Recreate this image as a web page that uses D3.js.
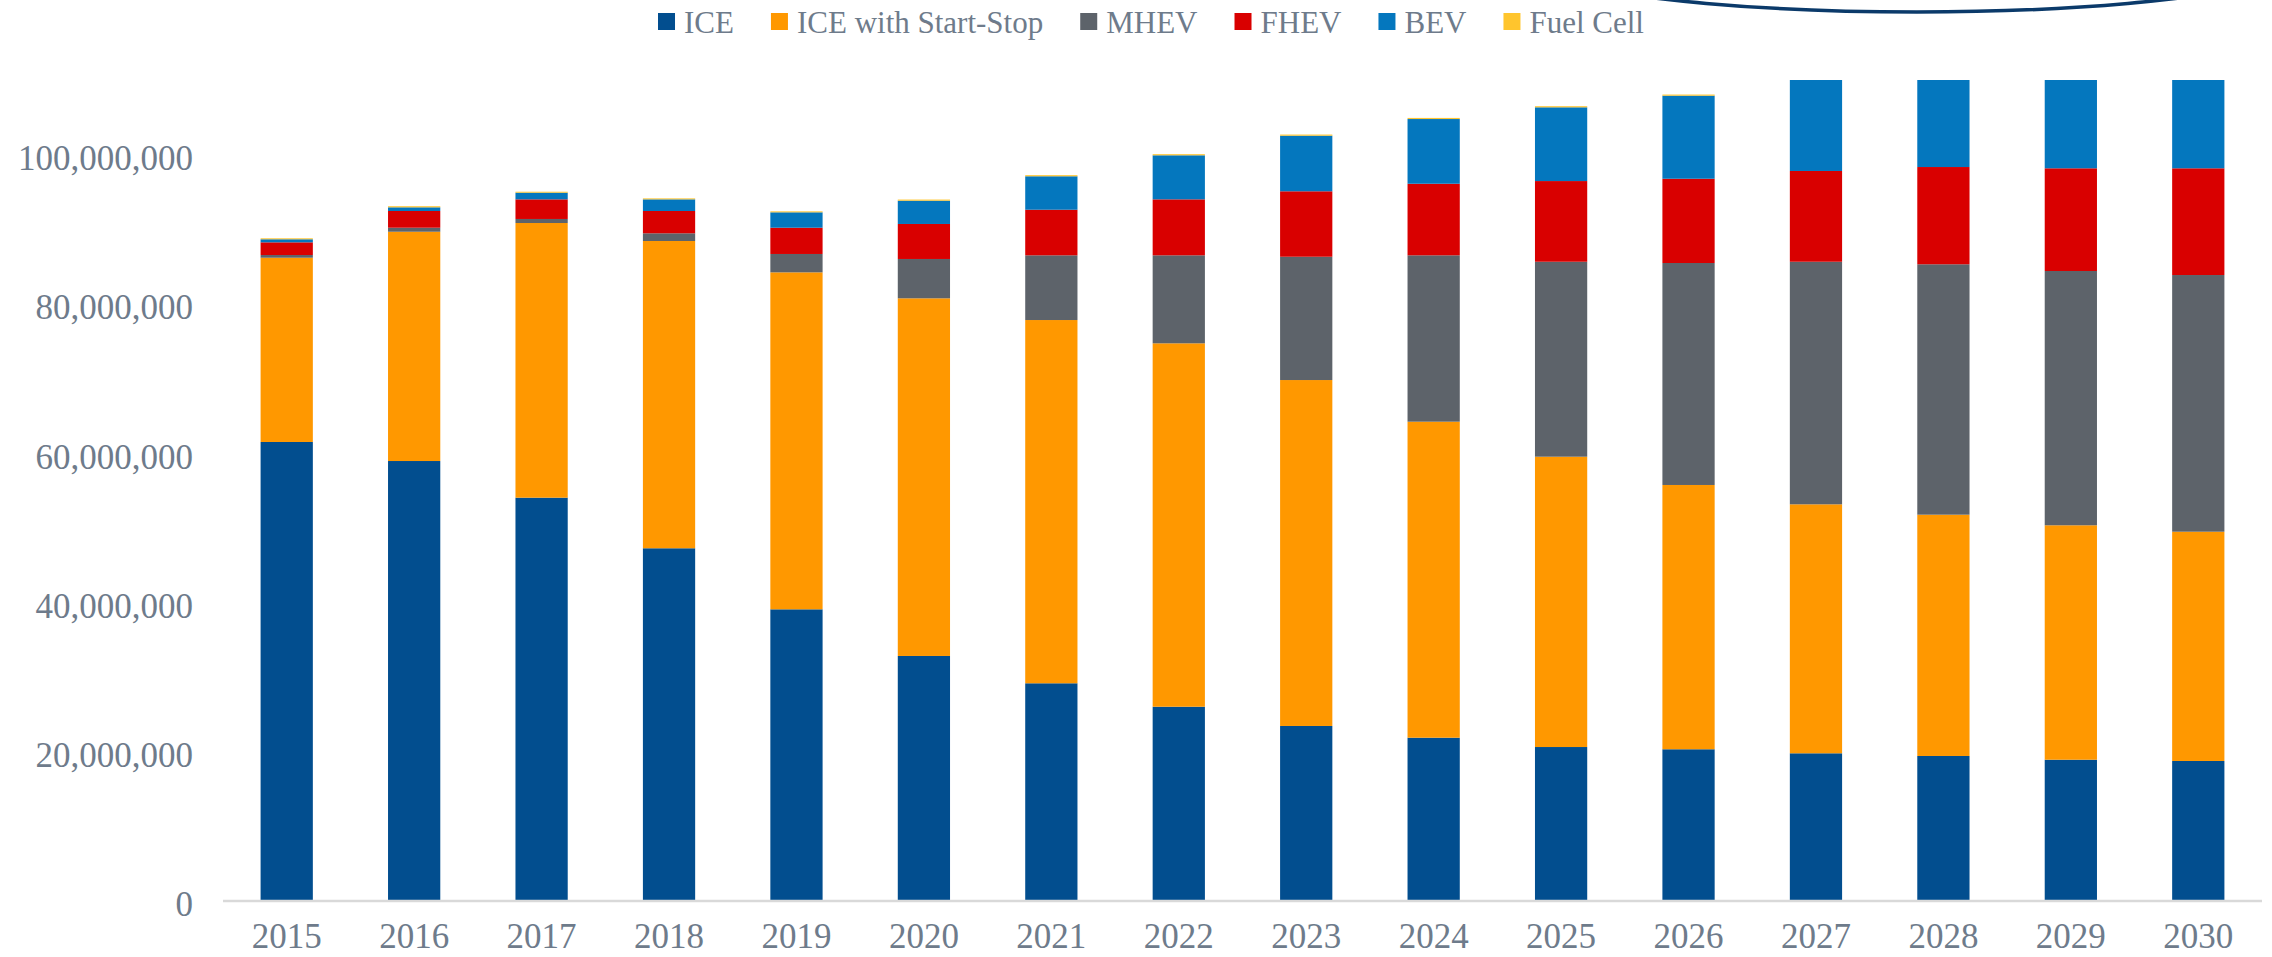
<html>
<head>
<meta charset="utf-8">
<script src="https://d3js.org/d3.v7.min.js"></script>
<style>
  body { margin: 0; background: #ffffff; }
  text { font-family: "Liberation Serif", "Times New Roman", serif; fill: #6E7B8B; }
</style>
</head>
<body>
<svg id="chart"></svg>

<script>
// years and vehicle sales per powertrain (millions of units)
var years = ["2015","2016","2017","2018","2019","2020","2021","2022","2023","2024","2025","2026","2027","2028","2029","2030"];

var ice         = [61.50, 58.95, 54.04, 47.26, 39.08, 32.83, 29.17, 26.03, 23.45, 21.88, 20.63, 20.33, 19.79, 19.43, 18.93, 18.76];
var iceStartStop= [24.69, 30.72, 36.80, 41.17, 45.15, 47.92, 48.67, 48.69, 46.35, 42.34, 38.90, 35.41, 33.36, 32.33, 31.41, 30.72];
var mhev        = [0.36, 0.54, 0.54, 1.03, 2.46, 5.27, 8.67, 11.79, 16.52, 22.29, 26.12, 29.74, 32.50, 33.55, 34.07, 34.39];
var fhev        = [1.70, 2.24, 2.63, 2.99, 3.52, 4.69, 6.11, 7.50, 8.77, 9.59, 10.81, 11.29, 12.16, 13.03, 13.76, 14.30];
var bev         = [0.41, 0.49, 0.89, 1.56, 2.06, 3.12, 4.48, 5.90, 7.45, 8.67, 9.88, 11.13, 12.6, 12.7, 12.9, 13.3];
var fuelCell    = [0.13, 0.15, 0.13, 0.13, 0.13, 0.15, 0.15, 0.15, 0.15, 0.15, 0.15, 0.15, 0.2, 0.2, 0.2, 0.2];

var seriesNames = ["ICE", "ICE with Start-Stop", "MHEV", "FHEV", "BEV", "Fuel Cell"];
var seriesValues = [ice, iceStartStop, mhev, fhev, bev, fuelCell];
var colors = ["#024E8F", "#FF9800", "#5D636A", "#D90000", "#0477BE", "#FFC52D"];

var yTicks = [0, 20000000, 40000000, 60000000, 80000000, 100000000];
var yMax = 110000000;

var width = 2272
var height = 957
var plotLeft = 223
var plotRight = 2262
var plotTop = 80
var plotBottom = 901

var svg = d3.select("#chart")
    .attr("width", width)
    .attr("height", height)

// table for the stack layout (millions -> units)
var table = years.map(function(y, i) {
  var row = { year: y };
  seriesNames.forEach(function(name, s) { row[name] = seriesValues[s][i] * 1000000; });
  return row;
});

var stack = d3.stack().keys(seriesNames);
var layers = stack(table);

var xAxis = d3.scaleBand()
    .domain(years)
    .range([plotLeft, plotRight])
    .paddingInner(0.59)
    .paddingOuter(0.295);

var yAxis = d3.scaleLinear()
    .domain([0, yMax])
    .range([plotBottom, plotTop]);

svg.append("clipPath")
    .attr("id", "plotClip")
  .append("rect")
    .attr("x", plotLeft)
    .attr("y", plotTop)
    .attr("width", plotRight - plotLeft)
    .attr("height", plotBottom - plotTop);

var bars = svg.append("g").attr("clip-path", "url(#plotClip)");

bars.selectAll(".layer")
    .data(layers)
    .enter().append("g")
    .attr("class", "layer")
    .attr("fill", function(d, i) { return colors[i]; })
  .selectAll("rect")
    .data(function(d) { return d; })
    .enter().append("rect")
    .attr("x", function(d) { return xAxis(d.data.year); })
    .attr("width", xAxis.bandwidth())
    .attr("y", function(d) { return yAxis(d[1]); })
    .attr("height", function(d) { return yAxis(d[0]) - yAxis(d[1]); });

// x axis line
svg.append("line")
    .attr("x1", plotLeft)
    .attr("x2", plotRight)
    .attr("y1", yAxis(0))
    .attr("y2", yAxis(0))
    .attr("stroke", "#D9D9D9")
    .attr("stroke-width", 2.5);

// year labels
svg.selectAll(".xlabel")
    .data(years)
    .enter().append("text")
    .attr("class", "xlabel")
    .attr("x", function(d) { return xAxis(d) + xAxis.bandwidth() / 2; })
    .attr("y", 948)
    .attr("text-anchor", "middle")
    .style("font-size", "35px")
    .text(function(d) { return d; });

// y labels
var fmt = d3.format(",");
svg.selectAll(".ylabel")
    .data(yTicks)
    .enter().append("text")
    .attr("class", "ylabel")
    .attr("x", 193)
    .attr("y", function(d) { return yAxis(d); })
    .attr("dy", "0.44em")
    .attr("text-anchor", "end")
    .style("font-size", "35px")
    .text(function(d) { return fmt(d); });

// legend
var legend = svg.append("g");
var lx = 0;
seriesNames.forEach(function(name, i) {
  var item = legend.append("g").attr("transform", "translate(" + lx + ",0)");
  item.append("rect")
      .attr("x", 0)
      .attr("y", 13)
      .attr("width", 17)
      .attr("height", 17)
      .attr("fill", colors[i]);
  var t = item.append("text")
      .attr("x", 26)
      .attr("y", 33)
      .style("font-size", "31px")
      .text(name);
  lx += 26 + t.node().getComputedTextLength() + 37;
});
var legendWidth = lx - 37;
legend.attr("transform", "translate(" + (1151 - legendWidth / 2) + ",0)");

// decorative swoosh at the top
svg.append("path")
    .attr("d", "M 1556,-20 A 408,60 0 0 0 2278,-20")
    .attr("fill", "none")
    .attr("stroke", "#0B3A6A")
    .attr("stroke-width", 3.5);
</script>
</body>
</html>
